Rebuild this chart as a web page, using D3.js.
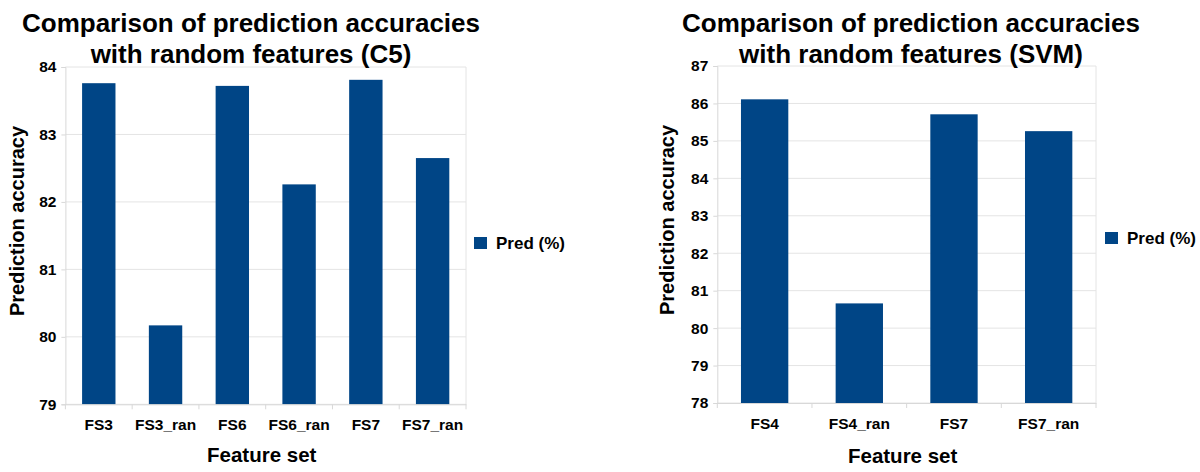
<!DOCTYPE html>
<html><head><meta charset="utf-8">
<script src="https://cdn.jsdelivr.net/npm/d3@7"></script>
<style>body{margin:0;background:#fff;} svg{display:block;} text{font-family:"Liberation Sans",Arial,sans-serif;font-weight:bold;fill:#000;}</style>
</head><body>
<svg id="chart" width="1200" height="472"></svg>
<script>
const c5Categories = ["FS3","FS3_ran","FS6","FS6_ran","FS7","FS7_ran"];
const c5Values = [83.76, 80.17, 83.72, 82.26, 83.81, 82.65];
const c5Ticks = [79, 80, 81, 82, 83, 84];
const svmCategories = ["FS4","FS4_ran","FS7","FS7_ran"];
const svmValues = [86.11, 80.66, 85.71, 85.26];
const svmTicks = [78, 79, 80, 81, 82, 83, 84, 85, 86, 87];
const titlesC5 = ["Comparison of prediction accuracies", "with random features (C5)"];
const titlesSVM = ["Comparison of prediction accuracies", "with random features (SVM)"];
const seriesName = "Pred (%)";
const xTitle = "Feature set";
const yTitle = "Prediction accuracy";
const barColor = "#004586";

const svg = d3.select("#chart");

function drawChart(o) {
  const g = svg.append("g");
  const x = d3.scaleBand().domain(o.cats).range([o.x0, o.x1]).paddingInner(0.5).paddingOuter(0.25);
  const y = d3.scaleLinear().domain([o.ticks[0], o.ticks[o.ticks.length-1]]).range([o.y1, o.y0]);
  // gridlines
  g.selectAll(".grid").data(o.ticks).enter().append("line")
    .attr("x1", o.x0).attr("x2", o.x1).attr("y1", d => y(d)).attr("y2", d => y(d))
    .attr("stroke", "#e4e4e4").attr("stroke-width", 1);
  // right border
  g.append("line").attr("x1", o.x1).attr("x2", o.x1).attr("y1", o.y0).attr("y2", o.y1).attr("stroke", "#e4e4e4");
  // bars
  g.selectAll(".bar").data(o.vals).enter().append("rect")
    .attr("x", (d,i) => x(o.cats[i])).attr("width", x.bandwidth())
    .attr("y", d => y(d)).attr("height", d => y(o.ticks[0]) - y(d))
    .attr("fill", barColor);
  // y axis
  const ya = d3.axisLeft(y).tickValues(o.ticks).tickSize(4).tickPadding(5).tickFormat(d3.format("d"));
  const yg = g.append("g").attr("transform", `translate(${o.x0},0)`).call(ya);
  yg.select(".domain").attr("stroke", "#d8d8d8");
  yg.selectAll(".tick line").attr("stroke", "#d8d8d8");
  yg.selectAll("text").style("font-size", "15.5px").style("font-weight", "bold").attr("fill", "#000");
  // x axis with ticks at category boundaries
  const xa = d3.axisBottom(x).tickSize(0).tickPadding(14.5);
  const xg = g.append("g").attr("transform", `translate(0,${o.y1})`).call(xa);
  xg.select(".domain").attr("stroke", "#d8d8d8");
  xg.selectAll("text").style("font-size", "15.5px").style("font-weight", "bold").attr("fill", "#000");
  const bounds = d3.range(o.cats.length + 1).map(i => o.x0 + i * (o.x1 - o.x0) / o.cats.length);
  g.selectAll(".xt").data(bounds).enter().append("line")
    .attr("x1", d => d).attr("x2", d => d).attr("y1", o.y1).attr("y2", o.y1 + 5)
    .attr("stroke", "#d8d8d8");
  // titles
  g.selectAll(".title").data(o.titles).enter().append("text")
    .attr("x", o.tx).attr("y", (d,i) => o.ty + i * 31)
    .attr("text-anchor", "middle")
    .style("font-size", "26px").text(d => d);
  g.append("text").attr("x", (o.x0 + o.x1)/2 - 4).attr("y", o.y1 + o.xty).attr("text-anchor", "middle")
    .style("font-size", "20.5px").text(xTitle);
  g.append("text").attr("transform", `translate(${o.ylx},${o.yly}) rotate(-90)`).attr("text-anchor", "middle")
    .attr("dy", "0.35em").style("font-size", "20px").text(yTitle);
  // legend
  g.append("rect").attr("x", o.lx).attr("y", o.ly - 6).attr("width", 13).attr("height", 12).attr("fill", barColor);
  g.append("text").attr("x", o.lx + 22).attr("y", o.ly).attr("dy", "0.35em").style("font-size", "17px").text(seriesName);
}

drawChart({cats: c5Categories, vals: c5Values, ticks: c5Ticks, titles: titlesC5,
  x0: 65.4, x1: 466, y0: 67, y1: 404.3, tx: 251, ty: 32, xty: 58, ylx: 17, yly: 221, lx: 474, ly: 243});
drawChart({cats: svmCategories, vals: svmValues, ticks: svmTicks, titles: titlesSVM,
  x0: 717.3, x1: 1096, y0: 66, y1: 403, tx: 911, ty: 32, xty: 60, ylx: 667, yly: 220, lx: 1105, ly: 238});
</script>
</body></html>
